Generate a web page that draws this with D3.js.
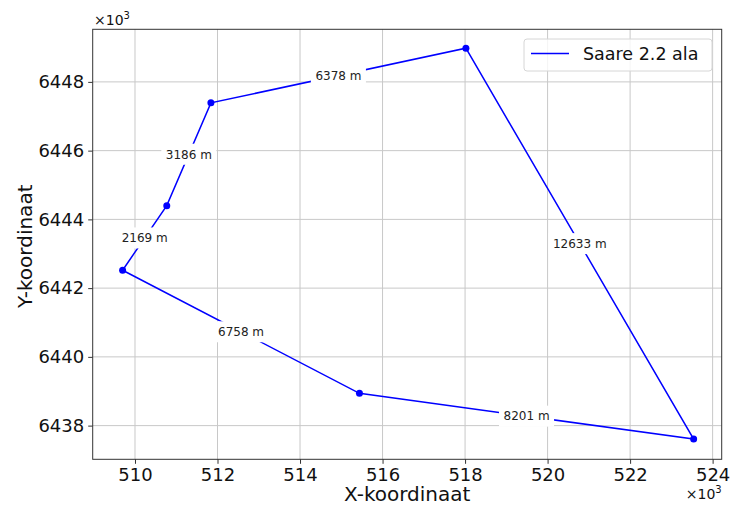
<!DOCTYPE html>
<html>
<head>
<meta charset="utf-8">
<script src="https://cdn.jsdelivr.net/npm/d3@7"></script>
<style>
  html, body { margin: 0; padding: 0; background: #fff; }
  svg { display: block; font-family: "DejaVu Sans", sans-serif; }
</style>
</head>
<body>
<svg id="chart" width="731" height="506"></svg>
<script>
// Boundary vertices of the area (metres), closed ring
const xCoords = [509700, 510770, 511840, 518020, 523540, 515440, 509700];
const yCoords = [6442520, 6444400, 6447390, 6448980, 6437610, 6438940, 6442520];
// Side lengths, one per edge of the ring
const sideLabels = ["2169 m", "3186 m", "6378 m", "12633 m", "8201 m", "6758 m"];
const xTicks = [510000, 512000, 514000, 516000, 518000, 520000, 522000, 524000];
const yTicks = [6438000, 6440000, 6442000, 6444000, 6446000, 6448000];
const seriesName = "Saare 2.2 ala";
const xTitle = "X-koordinaat";
const yTitle = "Y-koordinaat";

const W = 731, H = 506;
const m = { left: 92.7, right: W - 721.7, top: 29.3, bottom: H - 459.3 };
const svg = d3.select("#chart");

const x = d3.scaleLinear().domain([508975, 524220]).range([m.left, W - m.right]);
const y = d3.scaleLinear().domain([6437020, 6449530]).range([H - m.bottom, m.top]);

const fmt = d => String(Math.round(d / 1000));

// grid
const grid = svg.append("g");
grid.selectAll("line.gx").data(xTicks).join("line")
  .attr("x1", d => x(d)).attr("x2", d => x(d))
  .attr("y1", m.top).attr("y2", H - m.bottom)
  .attr("stroke", "#c8c8c8").attr("stroke-width", 1);
grid.selectAll("line.gy").data(yTicks).join("line")
  .attr("y1", d => y(d)).attr("y2", d => y(d))
  .attr("x1", m.left).attr("x2", W - m.right)
  .attr("stroke", "#c8c8c8").attr("stroke-width", 1);

// axes
const xAxis = svg.append("g")
  .attr("transform", `translate(0,${H - m.bottom})`)
  .call(d3.axisBottom(x).tickValues(xTicks).tickFormat(fmt).tickSize(4.5).tickPadding(4));
const yAxis = svg.append("g")
  .attr("transform", `translate(${m.left},0)`)
  .call(d3.axisLeft(y).tickValues(yTicks).tickFormat(fmt).tickSize(4.5).tickPadding(4));
[xAxis, yAxis].forEach(a => {
  a.select(".domain").remove();
  a.selectAll(".tick line").attr("stroke", "#333").attr("stroke-width", 1);
  a.selectAll(".tick text").attr("fill", "#111").style("font-size", "18px")
    .style("font-family", "DejaVu Sans, sans-serif");
});

// frame
svg.append("rect")
  .attr("x", m.left).attr("y", m.top)
  .attr("width", W - m.left - m.right).attr("height", H - m.top - m.bottom)
  .attr("fill", "none").attr("stroke", "#333").attr("stroke-width", 1);

// boundary line
const pts = xCoords.map((d, i) => [d, yCoords[i]]);
svg.append("path")
  .datum(pts)
  .attr("d", d3.line().x(d => x(d[0])).y(d => y(d[1])))
  .attr("fill", "none").attr("stroke", "#0000ff").attr("stroke-width", 1.5);
svg.selectAll("circle.v").data(pts.slice(0, -1)).join("circle")
  .attr("cx", d => x(d[0])).attr("cy", d => y(d[1])).attr("r", 3.5)
  .attr("fill", "#0000ff");

// side length labels at edge midpoints
const labels = svg.append("g");
sideLabels.forEach((t, i) => {
  const cx = x((xCoords[i] + xCoords[i + 1]) / 2);
  const cy = y((yCoords[i] + yCoords[i + 1]) / 2);
  const g = labels.append("g").attr("transform", `translate(${cx},${cy})`);
  const rect = g.append("rect").attr("fill", "#fff");
  const txt = g.append("text").text(t)
    .attr("text-anchor", "middle").attr("dy", "0.36em")
    .attr("fill", "#222").style("font-size", "12px");
  const w = txt.node().getComputedTextLength();
  rect.attr("x", -w / 2 - 4.5).attr("y", -10.5).attr("width", w + 9).attr("height", 21);
});

// legend
const lg = svg.append("g");
lg.append("rect")
  .attr("x", 524).attr("y", 39).attr("width", 188).attr("height", 32)
  .attr("rx", 3).attr("fill", "#fff").attr("fill-opacity", 0.8)
  .attr("stroke", "#d6d6d6").attr("stroke-width", 1);
lg.append("line")
  .attr("x1", 531).attr("x2", 569).attr("y1", 53.5).attr("y2", 53.5)
  .attr("stroke", "#0000ff").attr("stroke-width", 1.5);
lg.append("text").text(seriesName)
  .attr("x", 583).attr("y", 60).attr("fill", "#111").style("font-size", "17.5px");

// axis titles
svg.append("text").text(xTitle)
  .attr("x", (m.left + W - m.right) / 2).attr("y", 501)
  .attr("text-anchor", "middle").attr("fill", "#111").style("font-size", "20px");
svg.append("text").text(yTitle)
  .attr("transform", `translate(32,${(m.top + H - m.bottom) / 2 + 2}) rotate(-90)`)
  .attr("text-anchor", "middle").attr("fill", "#111").style("font-size", "20px");

// offset (scale) notes
function offsetText(xp, yp, anchor) {
  const t = svg.append("text").attr("x", xp).attr("y", yp)
    .attr("text-anchor", anchor).attr("fill", "#111").style("font-size", "14px");
  t.append("tspan").text("×10");
  t.append("tspan").text("3").attr("dy", -6).style("font-size", "10px");
}
offsetText(94, 25, "start");
offsetText(721.7, 499, "end");
</script>
</body>
</html>
